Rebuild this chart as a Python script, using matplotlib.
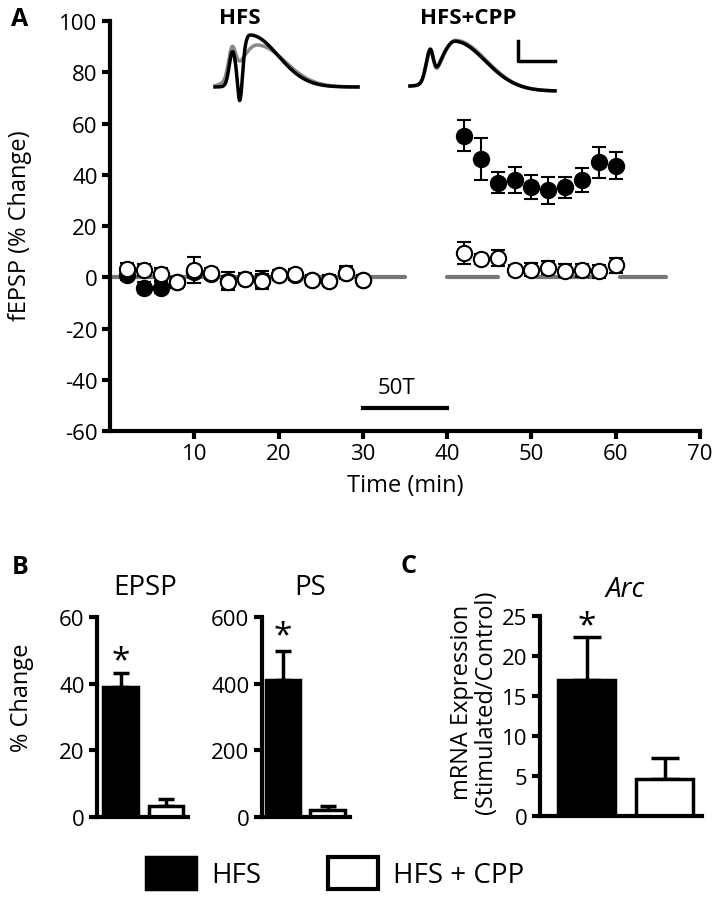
import numpy as np
import matplotlib
matplotlib.use("Agg")
import matplotlib.pyplot as plt
from matplotlib.patches import Patch

plt.rcParams['font.family'] = ['Open Sans', 'DejaVu Sans']
plt.rcParams['axes.unicode_minus'] = False

# ---- Panel A data (time in min, fEPSP % change) ----
t_base = [2, 4, 6, 8, 10, 12, 14, 16, 18, 20, 22, 24, 26, 28, 30]
hfs_base = [1, -4, -4, -2, 2, 1.2, -1.5, -0.5, -1, 1, 1, -1, -1.3, 1.6, -1]
hfs_base_err = [2, 2, 2, 2, 2, 2, 3.5, 2, 3.5, 2, 2, 2, 2, 2, 2]
cpp_base = [3.1, 2.8, 1.2, -2, 2.8, 1.5, -2, -0.5, -1.3, 1, 1.2, -1, -1.3, 1.8, -1]
cpp_base_err = [2.5, 2.5, 2.5, 2, 5, 2, 2.5, 2, 2.5, 2, 2, 2, 2, 2.5, 2]

t_post = [42, 44, 46, 48, 50, 52, 54, 56, 58, 60]
hfs_post = [55.3, 46.1, 36.8, 38.0, 35.2, 33.9, 35.2, 38.0, 44.8, 43.5]
hfs_post_err = [5.9, 8.2, 4.1, 5.0, 4.8, 5.4, 4.1, 4.6, 6.0, 5.2]
cpp_post = [9.4, 7.1, 7.5, 2.7, 2.9, 3.8, 2.5, 2.7, 2.3, 4.6]
cpp_post_err = [4.2, 2, 3, 2, 2.5, 2.5, 2.5, 2.5, 2.5, 3]

# gray baseline stimulation periods (start, end) in min
gray_periods = [(0, 35), (40, 46), (50, 58), (60.5, 66)]
train_period = (30, 40)   # 50T

# ---- Panel B / C data ----
groups = ['HFS', 'HFS + CPP']
epsp_mean = [38.9, 3.3]
epsp_err = [4.3, 2.2]
ps_mean = [411, 22]
ps_err = [88, 11]
arc_mean = [17.0, 4.6]
arc_err = [5.4, 2.6]

# ---- example trace shapes (amp, centre, sigma_left, sigma_right) ----
hfs_post_trace = [(28, 17, 3, 3), (-42, 25, 2.2, 2.5), (52, 35, 9, 28)]
hfs_pre_trace = [(28, 17, 3.5, 3.5), (42, 42, 16, 28)]
cpp_post_trace = [(28, 20, 4, 3), (-2, 27, 2.5, 3), (46, 45, 14, 30), (-5, 145, 60, 60)]
cpp_pre_trace = [(27, 20, 4, 3), (-2, 27, 2.5, 3), (47, 46, 14, 30), (-5, 145, 60, 60)]


def wave(t, comps):
    v = np.zeros_like(t)
    for amp, c, sl, sr in comps:
        s = np.where(t < c, sl, sr)
        v += amp * np.exp(-0.5 * ((t - c) / s) ** 2)
    return v


W, H = 720, 904
fig = plt.figure(figsize=(W / 100, H / 100), dpi=100)


def px_axes(x0, y0, x1, y1):
    return fig.add_axes([x0 / W, 1 - y1 / H, (x1 - x0) / W, (y1 - y0) / H])


def style(ax, size=16):
    for s in ['top', 'right']:
        ax.spines[s].set_visible(False)
    for s in ['left', 'bottom']:
        ax.spines[s].set_linewidth(3)
    ax.tick_params(direction='out', length=6, width=3, labelsize=size, pad=3)


# ---------------- Panel A ----------------
axA = px_axes(110, 22, 700, 432)
style(axA)
for a, b in gray_periods:
    axA.plot([a, b], [0, 0], color='#777777', lw=3, solid_capstyle='round', zorder=1)

ekw = dict(ecolor='black', elinewidth=1.5, capsize=5, capthick=1.5, ms=11, mew=1.5, mec='black')
axA.errorbar(t_base, hfs_base, yerr=hfs_base_err, fmt='o', mfc='black', zorder=2, **ekw)
axA.errorbar(t_base, cpp_base, yerr=cpp_base_err, fmt='o', mfc='white', zorder=3, **ekw)
axA.errorbar(t_post, hfs_post, yerr=hfs_post_err, fmt='o', mfc='black', zorder=2, **ekw)
axA.errorbar(t_post, cpp_post, yerr=cpp_post_err, fmt='o', mfc='white', zorder=3, **ekw)

axA.plot(train_period, [-51, -51], color='black', lw=3)
axA.text(np.mean(train_period) - 1, -47, '50T', ha='center', va='bottom', fontsize=16)

axA.set_xlim(0, 70)
axA.set_ylim(-60, 100)
axA.set_xticks(range(10, 71, 10))
axA.set_yticks(range(-60, 101, 20))
axA.set_xlabel('Time (min)', fontsize=17, labelpad=6)
fig.text(20 / W, 1 - 226 / H, 'fEPSP (% Change)', rotation=90, ha='center', va='center', fontsize=17)
fig.text(20 / W, 1 - 20 / H, 'A', fontsize=18, fontweight='bold', ha='center', va='center')

# example traces inset
axT = px_axes(200, 25, 570, 105)
axT.axis('off')
axT.set_xlim(200, 570)
axT.set_ylim(105, 25)
t1 = np.linspace(0, 143, 500)
axT.plot(215 + t1, 88 - wave(t1, hfs_pre_trace), color='#8a8a8a', lw=2.5)
axT.plot(215 + t1, 88 - wave(t1, hfs_post_trace), color='black', lw=2.5)
t2 = np.linspace(0, 145, 500)
axT.plot(410 + t2, 87 - wave(t2, cpp_pre_trace), color='#8a8a8a', lw=2.5)
axT.plot(410 + t2, 87 - wave(t2, cpp_post_trace), color='black', lw=2.5)
axT.plot([518, 518, 555], [42, 62, 62], color='black', lw=2.5)
fig.text(240 / W, 1 - 19 / H, 'HFS', fontsize=16, fontweight='bold', ha='center', va='center')
fig.text(468 / W, 1 - 19 / H, 'HFS+CPP', fontsize=16, fontweight='bold', ha='center', va='center')


# ---------------- Panel B / C bars ----------------
def bar_panel(ax, means, errs, xlim, ylim, yticks, cap, star_y, width):
    style(ax)
    x = np.arange(len(means))
    ax.bar(x, means, width=width, color=['black', 'white'], edgecolor='black', linewidth=2.5, zorder=2)
    ax.errorbar(x, means, yerr=[[0, 0], errs], fmt='none', ecolor='black', elinewidth=2.5,
                capsize=cap, capthick=2.5, zorder=1)
    ax.text(0, star_y, '*', ha='center', va='center', fontsize=24)
    ax.set_xlim(*xlim)
    ax.set_ylim(*ylim)
    ax.set_yticks(yticks)
    ax.set_xticks([])
    ax.spines['bottom'].set_bounds(*xlim)


axE = px_axes(97, 618, 188, 818)
bar_panel(axE, epsp_mean, epsp_err, (-0.52, 1.48), (0, 60), [0, 20, 40, 60], 6, 47, 0.76)
axP = px_axes(262, 618, 350, 818)
bar_panel(axP, ps_mean, ps_err, (-0.46, 1.5), (0, 600), [0, 200, 400, 600], 6, 545, 0.76)
axC = px_axes(540, 617, 702, 817)
bar_panel(axC, arc_mean, arc_err, (-0.6, 1.48), (0, 25), [0, 5, 10, 15, 20, 25], 10, 23.8, 0.73)

fig.text(145 / W, 1 - 588 / H, 'EPSP', fontsize=20, ha='center', va='center')
fig.text(310 / W, 1 - 588 / H, 'PS', fontsize=20, ha='center', va='center')
fig.text(625 / W, 1 - 590 / H, 'Arc', fontsize=20, style='italic', ha='center', va='center')
fig.text(22 / W, 1 - 698 / H, '% Change', rotation=90, fontsize=17, ha='center', va='center')
fig.text(474 / W, 1 - 702 / H, 'mRNA Expression\n(Stimulated/Control)', rotation=90,
         fontsize=17, ha='center', va='center', linespacing=1.05)
fig.text(20 / W, 1 - 568 / H, 'B', fontsize=18, fontweight='bold', ha='center', va='center')
fig.text(408 / W, 1 - 567 / H, 'C', fontsize=18, fontweight='bold', ha='center', va='center')

# legend
handles = [Patch(facecolor='black', edgecolor='black', lw=2.5),
           Patch(facecolor='white', edgecolor='black', lw=3)]
fig.legend(handles, groups, loc='center', bbox_to_anchor=(0.465, 1 - 874 / H), ncol=2,
           frameon=False, fontsize=20, handlelength=1.8, handleheight=1.4,
           handletextpad=0.55, columnspacing=2.4)

fig.savefig('out.png', dpi=100)
